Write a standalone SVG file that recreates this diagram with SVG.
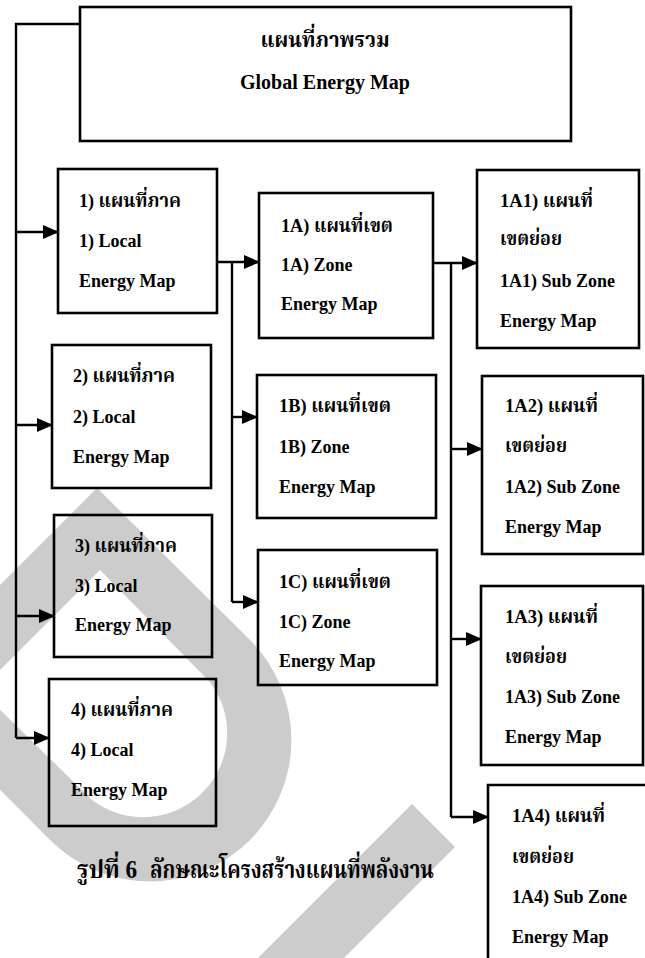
<svg xmlns="http://www.w3.org/2000/svg" width="645" height="958" viewBox="0 0 645 958">
<style>
.bg{fill:#ffffff}
.wm{fill:#cccccc;stroke:none}
.box{fill:none;stroke:#000;stroke-width:2.6}
.ln{fill:none;stroke:#000;stroke-width:2.4}
text{font-family:"Liberation Serif","Noto Serif Thai","Noto Sans Thai","Loma","Garuda","DejaVu Serif",serif;font-weight:bold;font-size:18px;fill:#000}
.th{font-size:19px}
.title{font-size:20px}
.tt{font-size:22px}
.cap{font-size:25px}
</style>
<defs>
<marker id="ah" markerUnits="userSpaceOnUse" markerWidth="16" markerHeight="14" refX="15" refY="7" orient="auto">
<path d="M0,0 L16,7 L0,14 Z" fill="#000"/>
</marker>
</defs>
<rect class="bg" x="0" y="0" width="645" height="958"/>
<g id="watermark">
<path class="wm" fill-rule="evenodd" d="M97,488 L250,640 A141,141 0 0 1 50,840 L-102,687 Z M100,570 L209,681 A84,84 0 0 1 91,799 L-20,690 Z"/>
<polygon class="wm" points="412,804 455,847 344,958 258,958"/>
</g>
<g id="connectors">
<path class="ln" d="M80,24 H16 V738"/>
<path class="ln" marker-end="url(#ah)" d="M16,232 H58"/>
<path class="ln" marker-end="url(#ah)" d="M16,425 H52"/>
<path class="ln" marker-end="url(#ah)" d="M16,616 H54"/>
<path class="ln" marker-end="url(#ah)" d="M16,738 H49"/>
<path class="ln" marker-end="url(#ah)" d="M217,262 H259"/>
<path class="ln" d="M232,262 V602"/>
<path class="ln" marker-end="url(#ah)" d="M232,417 H257"/>
<path class="ln" marker-end="url(#ah)" d="M232,602 H258"/>
<path class="ln" marker-end="url(#ah)" d="M433,263 H477"/>
<path class="ln" d="M451,263 V817"/>
<path class="ln" marker-end="url(#ah)" d="M451,449 H482"/>
<path class="ln" marker-end="url(#ah)" d="M451,639 H481"/>
<path class="ln" marker-end="url(#ah)" d="M451,817 H488"/>
</g>
<g id="global">
<rect class="box" x="80" y="7" width="491" height="134"/>
<text class="tt" x="325" y="47" text-anchor="middle" textLength="129" lengthAdjust="spacingAndGlyphs">แผนที่ภาพรวม</text>
<text class="title" x="325" y="89" text-anchor="middle" textLength="170" lengthAdjust="spacingAndGlyphs">Global Energy Map</text>
</g>
<g id="local1">
<rect class="box" x="58" y="169" width="159" height="144"/>
<text class="th" x="79" y="207" textLength="102" lengthAdjust="spacingAndGlyphs">1) แผนที่ภาค</text>
<text x="79" y="247">1) Local</text>
<text x="79" y="287">Energy Map</text>
</g>
<g id="local2">
<rect class="box" x="52" y="345" width="159" height="143"/>
<text class="th" x="73" y="382" textLength="102" lengthAdjust="spacingAndGlyphs">2) แผนที่ภาค</text>
<text x="73" y="423">2) Local</text>
<text x="73" y="463">Energy Map</text>
</g>
<g id="local3">
<rect class="box" x="54" y="515" width="158" height="142"/>
<text class="th" x="75" y="552" textLength="102" lengthAdjust="spacingAndGlyphs">3) แผนที่ภาค</text>
<text x="75" y="592">3) Local</text>
<text x="75" y="631">Energy Map</text>
</g>
<g id="local4">
<rect class="box" x="49" y="679" width="167" height="147"/>
<text class="th" x="71" y="716" textLength="102" lengthAdjust="spacingAndGlyphs">4) แผนที่ภาค</text>
<text x="71" y="756">4) Local</text>
<text x="71" y="796">Energy Map</text>
</g>
<g id="zone1A">
<rect class="box" x="259" y="193" width="174" height="145"/>
<text class="th" x="281" y="232" textLength="112" lengthAdjust="spacingAndGlyphs">1A) แผนที่เขต</text>
<text x="281" y="271">1A) Zone</text>
<text x="281" y="310">Energy Map</text>
</g>
<g id="zone1B">
<rect class="box" x="257" y="375" width="179" height="143"/>
<text class="th" x="279" y="412" textLength="112" lengthAdjust="spacingAndGlyphs">1B) แผนที่เขต</text>
<text x="279" y="453">1B) Zone</text>
<text x="279" y="493">Energy Map</text>
</g>
<g id="zone1C">
<rect class="box" x="258" y="550" width="179" height="135"/>
<text class="th" x="279" y="588" textLength="112" lengthAdjust="spacingAndGlyphs">1C) แผนที่เขต</text>
<text x="279" y="628">1C) Zone</text>
<text x="279" y="667">Energy Map</text>
</g>
<g id="sub1A1">
<rect class="box" x="477" y="170" width="162" height="178"/>
<text class="th" x="500" y="207" textLength="93" lengthAdjust="spacingAndGlyphs">1A1) แผนที่</text>
<text class="th" x="500" y="245" textLength="62" lengthAdjust="spacingAndGlyphs">เขตย่อย</text>
<text x="500" y="287">1A1) Sub Zone</text>
<text x="500" y="327">Energy Map</text>
</g>
<g id="sub1A2">
<rect class="box" x="482" y="376" width="161" height="178"/>
<text class="th" x="505" y="412" textLength="93" lengthAdjust="spacingAndGlyphs">1A2) แผนที่</text>
<text class="th" x="505" y="452" textLength="62" lengthAdjust="spacingAndGlyphs">เขตย่อย</text>
<text x="505" y="493">1A2) Sub Zone</text>
<text x="505" y="533">Energy Map</text>
</g>
<g id="sub1A3">
<rect class="box" x="481" y="586" width="162" height="179"/>
<text class="th" x="505" y="623" textLength="93" lengthAdjust="spacingAndGlyphs">1A3) แผนที่</text>
<text class="th" x="505" y="663" textLength="62" lengthAdjust="spacingAndGlyphs">เขตย่อย</text>
<text x="505" y="703">1A3) Sub Zone</text>
<text x="505" y="743">Energy Map</text>
</g>
<g id="sub1A4">
<path class="box" d="M488,960 V785 H647"/>
<text class="th" x="512" y="822" textLength="93" lengthAdjust="spacingAndGlyphs">1A4) แผนที่</text>
<text class="th" x="512" y="863" textLength="62" lengthAdjust="spacingAndGlyphs">เขตย่อย</text>
<text x="512" y="903">1A4) Sub Zone</text>
<text x="512" y="943">Energy Map</text>
</g>
<g id="caption">
<text class="cap" x="77" y="878" textLength="60" lengthAdjust="spacingAndGlyphs">รูปที่ 6</text>
<text class="cap" x="150" y="878" textLength="284" lengthAdjust="spacingAndGlyphs">ลักษณะโครงสร้างแผนที่พลังงาน</text>
</g>
</svg>
